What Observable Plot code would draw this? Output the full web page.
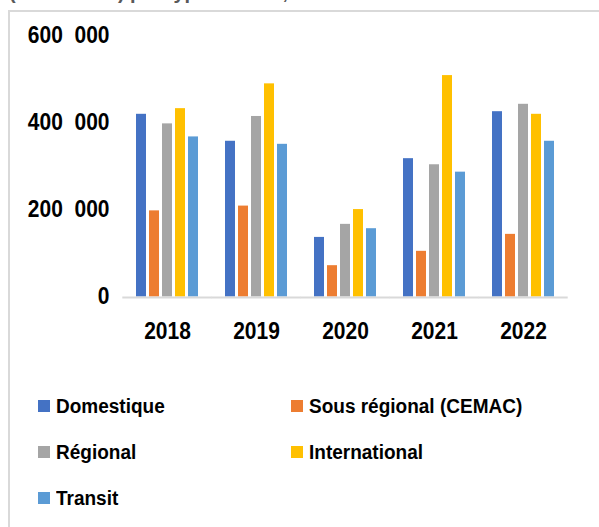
<!DOCTYPE html>
<html>
<head>
<meta charset="utf-8">
<script src="https://cdn.jsdelivr.net/npm/d3@7"></script>
<script src="https://cdn.jsdelivr.net/npm/@observablehq/plot@0.6"></script>
<style>
  html, body { margin: 0; padding: 0; background: #fff; }
  #wrap { position: relative; width: 599px; height: 527px; overflow: hidden; background: #fff;
          font-family: "Liberation Sans", Arial, sans-serif; }
  #title { position: absolute; left: 9px; top: -18px; line-height: 20px; font-size: 20px; font-weight: bold;
           color: #595959; white-space: nowrap; }
  #box { position: absolute; left: 8px; top: 10px; width: 700px; height: 700px;
         border: 2px solid #d9d9d9; box-sizing: border-box; pointer-events: none; z-index: 2; }
  #chart { position: absolute; left: 0; top: 0; z-index: 1; }
  .item { position: absolute; display: flex; align-items: center; height: 20px; line-height: 20px;
          font-size: 19px; font-weight: bold; color: #000; white-space: nowrap; z-index: 3; }
  .item .tx { display: inline-block; transform: scaleY(1.1); transform-origin: center; }
  .sw { width: 12px; height: 12px; margin-right: 6px; flex: none; }
</style>
</head>
<body>
<div id="wrap">
  <div id="title">(en nombre) par type de vols, 2018-2022</div>
  <div id="chart"></div>
  <div id="box"></div>
  <div id="legend"></div>
</div>
<script>
const years = ["2018", "2019", "2020", "2021", "2022"];
const series = ["Domestique", "Sous régional (CEMAC)", "Régional", "International", "Transit"];
const colors = ["#4472C4", "#ED7D31", "#A5A5A5", "#FFC000", "#5B9BD5"];
const domestique    = [420000, 358000, 137000, 318000, 426000];
const sousRegional  = [198000, 209000,  72000, 105000, 144000];
const regional      = [398000, 415000, 167000, 304000, 443000];
const international = [433000, 490000, 201000, 509000, 420000];
const transit       = [368000, 351000, 157000, 287000, 358000];
const yTicks = [0, 200000, 400000, 600000];

const valuesBySeries = [domestique, sousRegional, regional, international, transit];
const table = [];
years.forEach((yr, i) => {
  series.forEach((s, j) => {
    table.push({year: yr, series: s, value: valuesBySeries[j][i]});
  });
});

const fmt = d => d === 0 ? "0" : d3.format(",")(d).replace(",", "\u00a0\u00a0");

const chart = Plot.plot({
  width: 599,
  height: 350,
  marginTop: 35.5,
  marginBottom: 53.5,
  marginLeft: 122,
  marginRight: 31,
  style: {
    fontFamily: "'Liberation Sans', Arial, sans-serif",
    fontSize: "21px",
    fontWeight: "bold",
    color: "#000",
    background: "transparent",
    overflow: "visible"
  },
  facet: {data: table, x: "year"},
  fx: {domain: years, paddingInner: 0.26, paddingOuter: 0.13, tickSize: 0, tickPadding: 26, label: null},
  x: {domain: series, paddingInner: 0.2, paddingOuter: 0, axis: null},
  y: {domain: [0, 600000], ticks: yTicks, tickFormat: fmt, tickSize: 0, tickPadding: 25, label: null},
  color: {domain: series, range: colors},
  marks: [
    Plot.barY(table, {x: "series", y: "value", fill: "series"}),
    Plot.ruleY([0], {stroke: "#d9d9d9", strokeWidth: 2, dy: 0.5, insetLeft: -11.7, insetRight: -11.7})
  ]
});
document.getElementById("chart").appendChild(chart);

// stretch axis labels vertically a little, around their own centre
chart.querySelectorAll("text").forEach(t => {
  const b = t.getBBox();
  const cx = b.x + b.width / 2, cy = b.y + b.height / 2;
  const prev = t.getAttribute("transform") || "";
  t.setAttribute("transform", `${prev} translate(${cx},${cy}) scale(1,1.1) translate(${-cx},${-cy})`.trim());
});

// legend
const legendPos = [
  {left: 38, top: 396},
  {left: 291, top: 396},
  {left: 38, top: 442},
  {left: 291, top: 442},
  {left: 38, top: 487.5}
];
const legend = document.getElementById("legend");
series.forEach((s, j) => {
  const it = document.createElement("div");
  it.className = "item";
  it.style.left = legendPos[j].left + "px";
  it.style.top = legendPos[j].top + "px";
  const sw = document.createElement("span");
  sw.className = "sw";
  sw.style.background = colors[j];
  const tx = document.createElement("span");
  tx.className = "tx";
  tx.textContent = s;
  it.appendChild(sw);
  it.appendChild(tx);
  legend.appendChild(it);
});
</script>
</body>
</html>
